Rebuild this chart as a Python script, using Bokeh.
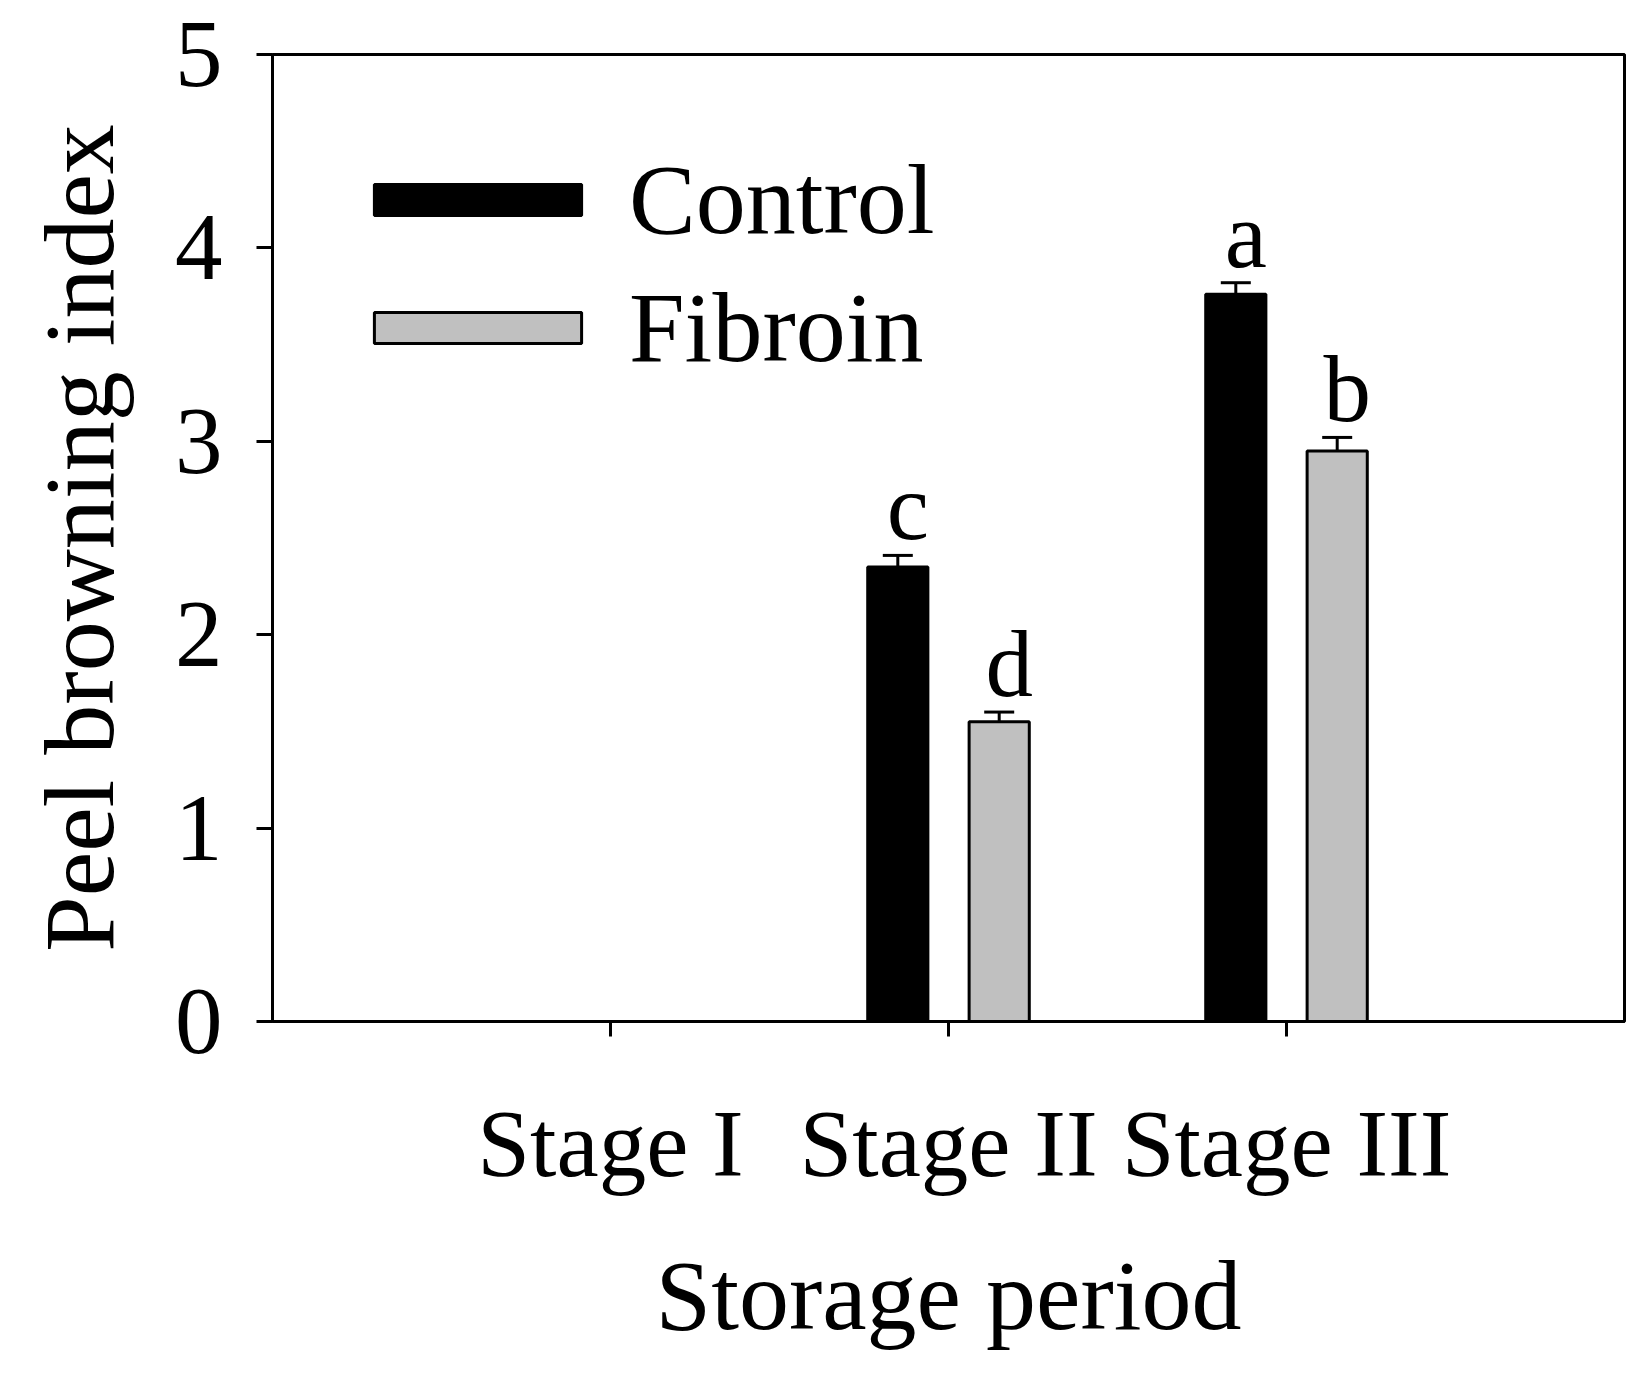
from bokeh.plotting import figure
from bokeh.models import (ColumnDataSource, Range1d, FixedTicker, Whisker, TeeHead,
                          Legend, LegendItem)
from bokeh.transform import dodge
from bokeh.core.properties import value
from bokeh.embed import file_html
from bokeh.resources import INLINE

# ---- data ----
stages = ["Stage I", "Stage II", "Stage III"]
control = [0.0, 2.35, 3.76]
control_err = [0.0, 0.06, 0.06]
fibroin = [0.0, 1.55, 2.95]
fibroin_err = [0.0, 0.05, 0.07]
control_letters = ["", "c", "a"]
fibroin_letters = ["", "d", "b"]
series_names = ["Control", "Fibroin"]
y_ticks = [0, 1, 2, 3, 4, 5]

FONT = "Liberation Serif"
xs = [i + 1 for i in range(len(stages))]

src_c = ColumnDataSource(dict(
    x=xs, top=control,
    upper=[v + e for v, e in zip(control, control_err)],
    lbl=control_letters))
src_f = ColumnDataSource(dict(
    x=xs, top=fibroin,
    upper=[v + e for v, e in zip(fibroin, fibroin_err)],
    lbl=fibroin_letters))

p = figure(frame_width=1352, frame_height=967,
           min_border_left=272, min_border_right=20,
           min_border_top=54, min_border_bottom=355,
           x_range=Range1d(0, len(stages) + 1), y_range=Range1d(0, 5),
           output_backend="svg", toolbar_location=None, tools="")

p.background_fill_color = "white"
p.border_fill_color = "white"
p.outline_line_color = "black"
p.outline_line_width = 3
p.xgrid.visible = False
p.ygrid.visible = False

OFF = 0.15
W = 0.178
rc = p.vbar(x=dodge("x", -OFF, range=p.x_range), top="top", width=W, bottom=0,
            source=src_c, fill_color="black", line_color="black", line_width=3)
rf = p.vbar(x=dodge("x", OFF, range=p.x_range), top="top", width=W, bottom=0,
            source=src_f, fill_color="#c0c0c0", line_color="black", line_width=3)

# error bars and significance letters (only where bars exist)
for src, off, vals in ((src_c, -OFF, control), (src_f, OFF, fibroin)):
    idx = [i for i, v in enumerate(vals) if v > 0]
    sub = ColumnDataSource(dict(
        x=[src.data["x"][i] for i in idx],
        base=[src.data["top"][i] for i in idx],
        upper=[src.data["upper"][i] for i in idx],
        lbl=[src.data["lbl"][i] for i in idx]))
    w = Whisker(base=dodge("x", off, range=p.x_range), lower="base", upper="upper",
                dimension="height", source=sub, line_width=3, line_color="black",
                upper_head=TeeHead(size=30, line_width=3, line_color="black"),
                lower_head=None)
    p.add_layout(w)
    p.text(x=dodge("x", off, range=p.x_range), y="upper", text="lbl", source=sub,
           text_font=value(FONT), text_font_size="95px", text_color="black",
           text_align="center", text_baseline="alphabetic",
           x_offset=10, y_offset=-48)

# axes
p.xaxis.ticker = FixedTicker(ticks=xs)
p.xaxis.major_label_overrides = {x: s for x, s in zip(xs, stages)}
p.yaxis.ticker = FixedTicker(ticks=y_ticks)
for ax in (p.xaxis, p.yaxis):
    ax.axis_line_width = 3
    ax.axis_line_color = "black"
    ax.major_tick_line_width = 3
    ax.major_tick_line_color = "black"
    ax.major_tick_in = 0
    ax.minor_tick_line_color = None
    ax.major_label_text_font = FONT
    ax.major_label_text_font_size = "95px"
    ax.major_label_text_color = "black"
    ax.axis_label_text_font = FONT
    ax.axis_label_text_font_size = "100px"
    ax.axis_label_text_font_style = "normal"
    ax.axis_label_text_color = "black"

p.xaxis.major_tick_out = 15
p.yaxis.major_tick_out = 16
p.xaxis.major_label_standoff = 54
p.yaxis.major_label_standoff = 34
p.xaxis.axis_label = "Storage period"
p.yaxis.axis_label = "Peel browning index"
p.xaxis.axis_label_standoff = 40
p.yaxis.axis_label_standoff = 37

legend = Legend(items=[LegendItem(label=series_names[0], renderers=[rc]),
                       LegendItem(label=series_names[1], renderers=[rf])],
                location=(76, 636), orientation="vertical",
                glyph_width=259, glyph_height=39, label_standoff=22,
                spacing=13, padding=0, margin=0,
                border_line_alpha=0, background_fill_alpha=0,
                label_text_font=FONT, label_text_font_size="100px",
                label_text_color="black")
p.add_layout(legend)

open("out.html", "w").write(file_html(p, INLINE))
